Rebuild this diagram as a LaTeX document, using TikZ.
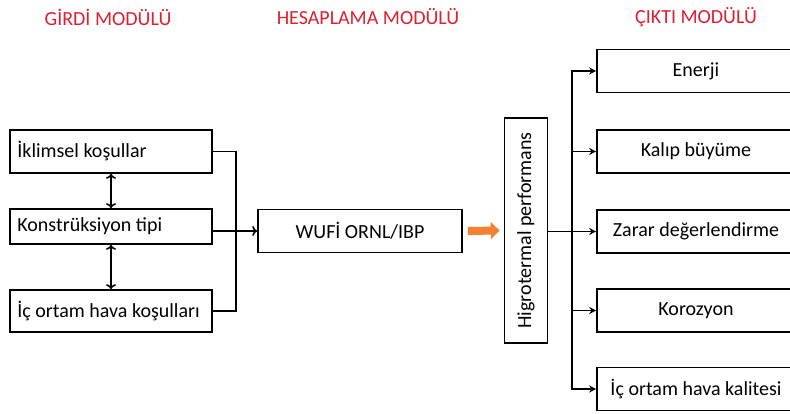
\documentclass[tikz,border=0pt]{standalone}
\usepackage{fontspec}
\setmainfont{Carlito}
\usetikzlibrary{arrows.meta}
\definecolor{hdrred}{RGB}{222,32,48}
\definecolor{arrorange}{RGB}{240,130,50}
\begin{document}
\begin{tikzpicture}[x=1pt,y=-1pt,
  box/.style={draw, line width=1.6pt, inner sep=0pt, font=\fontsize{20}{24}\selectfont},
  lbox/.style={box, minimum width=202pt},
  ltxt/.style={anchor=west, inner sep=0pt, font=\fontsize{20}{24}\selectfont},
  rbox/.style={box, minimum width=198pt, minimum height=43pt, align=center},
  hdr/.style={text=hdrred, font=\fontsize{20}{24}\selectfont},
  ln/.style={line width=1.5pt},
  solid arr/.style={ln, -{Stealth[length=7pt,width=7pt]}},
  open arr/.style={ln, -{To[length=5pt,width=10pt]}},
  dbl arr/.style={ln, {To[length=5pt,width=10pt]}-{To[length=5pt,width=10pt]}}]
\useasboundingbox (0,0) rectangle (790,414);
\clip (0,0) rectangle (790,414);
\fill[white] (0,0) rectangle (790,414);
% headers
\node[hdr] (h1) at (108,17) {GİRDİ MODÜLÜ};
\node[hdr] (h2) at (368,17) {HESAPLAMA MODÜLÜ};
\node[hdr] (h3) at (696,17) {ÇIKTI MODÜLÜ};
% left boxes
\node[lbox, minimum height=43pt] (ikl) at (111,151.5) {};
\node[lbox, minimum height=35pt] (kons) at (111,226.5) {};
\node[lbox, minimum height=42pt] (ic) at (111,311) {};
\node[ltxt] (iklt) at ([xshift=8pt]ikl.west) {İklimsel koşullar};
\node[ltxt] (konst) at ([xshift=8pt]kons.west) {Konstrüksiyon tipi};
\node[ltxt] (ict) at ([xshift=8pt]ic.west) {İç ortam hava koşulları};
\draw[dbl arr] (ikl.south) -- (kons.north);
\draw[dbl arr] (kons.south) -- (ic.north);
% bracket and WUFI
\node[box, minimum width=204pt, minimum height=43pt] (wufi) at (360,231) {WUFİ ORNL/IBP};
\draw[ln] (ikl.east) -- ++(23,0) coordinate (bk) |- (ic.east);
\draw[open arr] (kons.east |- wufi.west) -- (wufi.west);
% Higrotermal
\node[box, minimum width=43pt, minimum height=225pt] (hig) at (526,230.5) {};
\node[rotate=90, font=\fontsize{20}{24}\selectfont] (higt) at (hig.center) {Higrotermal performans};
\draw[arrorange, line width=8pt, shorten <=5pt, shorten >=4pt,
  -{Triangle[length=9pt,width=17pt]}] (wufi.east) -- (hig.west);
% right boxes
\node[rbox] (ene) at (696,71) {Enerji};
\node[rbox] (kal) at (696,151.5) {Kalıp büyüme};
\node[rbox] (zar) at (696,231.5) {Zarar değerlendirme};
\node[rbox] (kor) at (696,310.5) {Korozyon};
\node[rbox] (kal2) at (696,389) {İç ortam hava kalitesi};
\coordinate (bus) at (572,231.5);
\draw[solid arr] (hig.east |- zar.west) -- (zar.west);
\draw[solid arr] (bus) |- (ene.west);
\draw[solid arr] (bus) |- (kal.west);
\draw[solid arr] (bus) |- (kor.west);
\draw[solid arr] (bus) |- (kal2.west);
\end{tikzpicture}
\end{document}
